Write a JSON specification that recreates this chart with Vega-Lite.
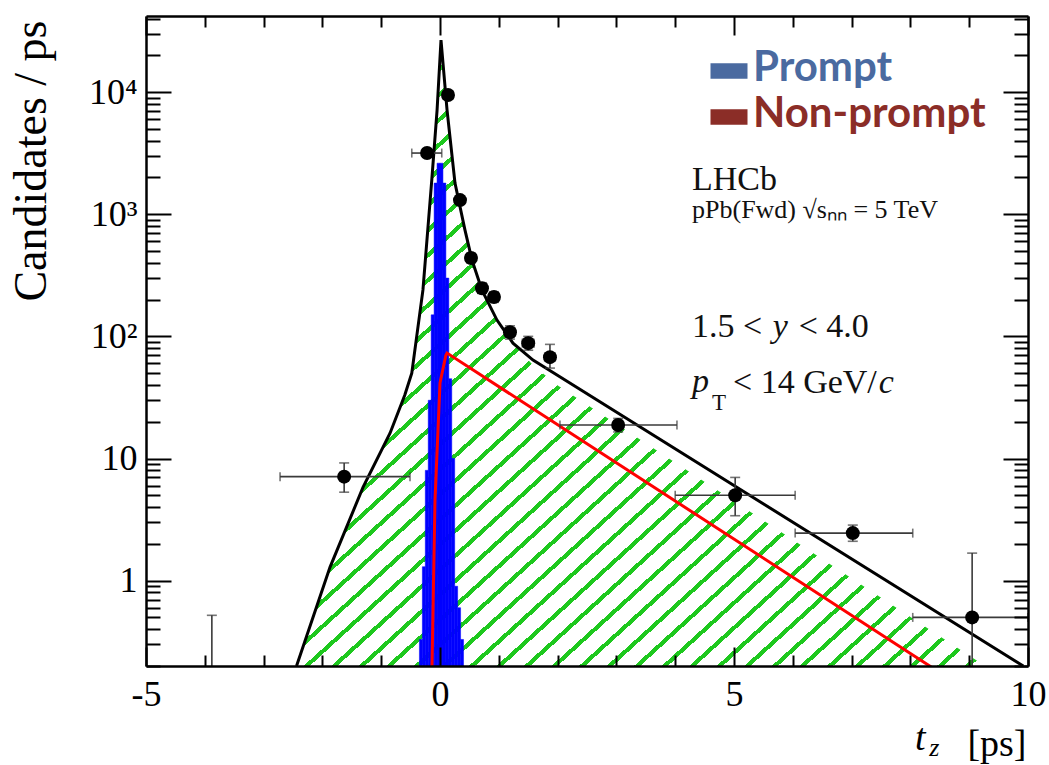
{
  "$schema": "https://vega.github.io/schema/vega-lite/v6.json",
  "width": 882,
  "height": 650,
  "autosize": "none",
  "padding": {"left": 146, "top": 16, "right": 21, "bottom": 99},
  "background": "white",
  "config": {"view": {"stroke": null}},
  "datasets": {
    "hatch": [
      {"t": -2.44, "n": 0.2}, {"t": -1.87, "n": 1.29}, {"t": -1.31, "n": 5.8}, {"t": -0.85, "n": 16.1},
      {"t": -0.6, "n": 33}, {"t": -0.48, "n": 50}, {"t": -0.29, "n": 240}, {"t": -0.14, "n": 1900}, {"t": -0.05, "n": 7100},
      {"t": 0.017, "n": 26700}, {"t": 0.12, "n": 7130}, {"t": 0.255, "n": 1800}, {"t": 0.425, "n": 742},
      {"t": 0.544, "n": 422}, {"t": 0.714, "n": 239}, {"t": 0.969, "n": 136}, {"t": 1.241, "n": 88},
      {"t": 1.582, "n": 58}, {"t": 1.99, "n": 40}, {"t": 9.27, "n": 0.2}
    ],
    "total": [
      {"t": -2.44, "n": 0.2}, {"t": -1.87, "n": 1.29}, {"t": -1.31, "n": 5.8}, {"t": -0.85, "n": 16.1},
      {"t": -0.6, "n": 33}, {"t": -0.48, "n": 50}, {"t": -0.29, "n": 240}, {"t": -0.14, "n": 1900}, {"t": -0.05, "n": 7100},
      {"t": 0.017, "n": 26700}, {"t": 0.12, "n": 7130}, {"t": 0.255, "n": 1800}, {"t": 0.425, "n": 742},
      {"t": 0.544, "n": 422}, {"t": 0.714, "n": 239}, {"t": 0.969, "n": 136}, {"t": 1.241, "n": 88},
      {"t": 1.582, "n": 64}, {"t": 1.99, "n": 48.2}, {"t": 9.92, "n": 0.2}
    ],
    "nonprompt": [
      {"t": -0.136, "n": 0.2}, {"t": -0.085, "n": 4.56}, {"t": 0.0, "n": 41.5}, {"t": 0.1, "n": 70},
      {"t": 0.12, "n": 73}, {"t": 8.4, "n": 0.19}
    ],
    "prompt": [
      {"lo": -0.35, "hi": -0.30, "n": 0.33}, {"lo": -0.30, "hi": -0.25, "n": 1.3}, {"lo": -0.25, "hi": -0.20, "n": 8},
      {"lo": -0.20, "hi": -0.15, "n": 30}, {"lo": -0.15, "hi": -0.10, "n": 150}, {"lo": -0.10, "hi": -0.05, "n": 1800},
      {"lo": -0.05, "hi": 0.0, "n": 2620}, {"lo": 0.0, "hi": 0.05, "n": 2620}, {"lo": 0.05, "hi": 0.10, "n": 1800},
      {"lo": 0.10, "hi": 0.15, "n": 300}, {"lo": 0.15, "hi": 0.20, "n": 45}, {"lo": 0.20, "hi": 0.25, "n": 10},
      {"lo": 0.25, "hi": 0.30, "n": 0.9}, {"lo": 0.30, "hi": 0.35, "n": 0.6}, {"lo": 0.35, "hi": 0.40, "n": 0.33}
    ],
    "points": [
      {"t": -1.63, "n": 7.1, "tlo": -2.72, "thi": -0.51, "nlo": 5.3, "nhi": 9.2},
      {"t": -0.22, "n": 3170, "tlo": -0.48, "thi": 0.03, "nlo": 2950, "nhi": 3400},
      {"t": 0.136, "n": 9460, "tlo": 0.05, "thi": 0.22, "nlo": 9200, "nhi": 9750},
      {"t": 0.34, "n": 1306, "tlo": 0.27, "thi": 0.41, "nlo": 1230, "nhi": 1390},
      {"t": 0.527, "n": 438, "tlo": 0.46, "thi": 0.6, "nlo": 400, "nhi": 480},
      {"t": 0.714, "n": 248, "tlo": 0.64, "thi": 0.79, "nlo": 225, "nhi": 275},
      {"t": 0.918, "n": 210, "tlo": 0.84, "thi": 1.0, "nlo": 190, "nhi": 232},
      {"t": 1.19, "n": 108, "tlo": 1.1, "thi": 1.28, "nlo": 95, "nhi": 122},
      {"t": 1.5, "n": 88, "tlo": 1.4, "thi": 1.6, "nlo": 77, "nhi": 100},
      {"t": 1.87, "n": 67.6, "tlo": 1.78, "thi": 1.96, "nlo": 55, "nhi": 86},
      {"t": 3.03, "n": 18.8, "tlo": 2.04, "thi": 4.03, "nlo": 16.5, "nhi": 21.3},
      {"t": 5.02, "n": 5.0, "tlo": 4.0, "thi": 6.04, "nlo": 3.4, "nhi": 7.0},
      {"t": 7.02, "n": 2.45, "tlo": 6.04, "thi": 8.04, "nlo": 2.1, "nhi": 2.85},
      {"t": 9.05, "n": 0.5, "tlo": 8.04, "thi": 10.0, "nlo": 0.1, "nhi": 1.68},
      {"t": -3.88, "n": 0.05, "tlo": -3.88, "thi": -3.88, "nlo": 0.1, "nhi": 0.52}
    ]
  },
  "layer": [
    {
      "data": {"name": "hatch"},
      "mark": {
        "type": "area",
        "clip": true,
        "fill": {
          "gradient": "linear", "x1": 0, "y1": 0, "x2": 1, "y2": 1,
          "stops": [
            {"offset": 0, "color": "#ffffff"},
            {"offset": 0.005, "color": "#ffffff"}, {"offset": 0.005, "color": "#1ec81e"}, {"offset": 0.0095, "color": "#1ec81e"}, {"offset": 0.0095, "color": "#ffffff"},
            {"offset": 0.025, "color": "#ffffff"}, {"offset": 0.025, "color": "#1ec81e"}, {"offset": 0.0295, "color": "#1ec81e"}, {"offset": 0.0295, "color": "#ffffff"},
            {"offset": 0.045, "color": "#ffffff"}, {"offset": 0.045, "color": "#1ec81e"}, {"offset": 0.0495, "color": "#1ec81e"}, {"offset": 0.0495, "color": "#ffffff"},
            {"offset": 0.065, "color": "#ffffff"}, {"offset": 0.065, "color": "#1ec81e"}, {"offset": 0.0695, "color": "#1ec81e"}, {"offset": 0.0695, "color": "#ffffff"},
            {"offset": 0.085, "color": "#ffffff"}, {"offset": 0.085, "color": "#1ec81e"}, {"offset": 0.0895, "color": "#1ec81e"}, {"offset": 0.0895, "color": "#ffffff"},
            {"offset": 0.105, "color": "#ffffff"}, {"offset": 0.105, "color": "#1ec81e"}, {"offset": 0.1095, "color": "#1ec81e"}, {"offset": 0.1095, "color": "#ffffff"},
            {"offset": 0.125, "color": "#ffffff"}, {"offset": 0.125, "color": "#1ec81e"}, {"offset": 0.1295, "color": "#1ec81e"}, {"offset": 0.1295, "color": "#ffffff"},
            {"offset": 0.145, "color": "#ffffff"}, {"offset": 0.145, "color": "#1ec81e"}, {"offset": 0.1495, "color": "#1ec81e"}, {"offset": 0.1495, "color": "#ffffff"},
            {"offset": 0.165, "color": "#ffffff"}, {"offset": 0.165, "color": "#1ec81e"}, {"offset": 0.1695, "color": "#1ec81e"}, {"offset": 0.1695, "color": "#ffffff"},
            {"offset": 0.185, "color": "#ffffff"}, {"offset": 0.185, "color": "#1ec81e"}, {"offset": 0.1895, "color": "#1ec81e"}, {"offset": 0.1895, "color": "#ffffff"},
            {"offset": 0.205, "color": "#ffffff"}, {"offset": 0.205, "color": "#1ec81e"}, {"offset": 0.2095, "color": "#1ec81e"}, {"offset": 0.2095, "color": "#ffffff"},
            {"offset": 0.225, "color": "#ffffff"}, {"offset": 0.225, "color": "#1ec81e"}, {"offset": 0.2295, "color": "#1ec81e"}, {"offset": 0.2295, "color": "#ffffff"},
            {"offset": 0.245, "color": "#ffffff"}, {"offset": 0.245, "color": "#1ec81e"}, {"offset": 0.2495, "color": "#1ec81e"}, {"offset": 0.2495, "color": "#ffffff"},
            {"offset": 0.265, "color": "#ffffff"}, {"offset": 0.265, "color": "#1ec81e"}, {"offset": 0.2695, "color": "#1ec81e"}, {"offset": 0.2695, "color": "#ffffff"},
            {"offset": 0.285, "color": "#ffffff"}, {"offset": 0.285, "color": "#1ec81e"}, {"offset": 0.2895, "color": "#1ec81e"}, {"offset": 0.2895, "color": "#ffffff"},
            {"offset": 0.305, "color": "#ffffff"}, {"offset": 0.305, "color": "#1ec81e"}, {"offset": 0.3095, "color": "#1ec81e"}, {"offset": 0.3095, "color": "#ffffff"},
            {"offset": 0.325, "color": "#ffffff"}, {"offset": 0.325, "color": "#1ec81e"}, {"offset": 0.3295, "color": "#1ec81e"}, {"offset": 0.3295, "color": "#ffffff"},
            {"offset": 0.345, "color": "#ffffff"}, {"offset": 0.345, "color": "#1ec81e"}, {"offset": 0.3495, "color": "#1ec81e"}, {"offset": 0.3495, "color": "#ffffff"},
            {"offset": 0.365, "color": "#ffffff"}, {"offset": 0.365, "color": "#1ec81e"}, {"offset": 0.3695, "color": "#1ec81e"}, {"offset": 0.3695, "color": "#ffffff"},
            {"offset": 0.385, "color": "#ffffff"}, {"offset": 0.385, "color": "#1ec81e"}, {"offset": 0.3895, "color": "#1ec81e"}, {"offset": 0.3895, "color": "#ffffff"},
            {"offset": 0.405, "color": "#ffffff"}, {"offset": 0.405, "color": "#1ec81e"}, {"offset": 0.4095, "color": "#1ec81e"}, {"offset": 0.4095, "color": "#ffffff"},
            {"offset": 0.425, "color": "#ffffff"}, {"offset": 0.425, "color": "#1ec81e"}, {"offset": 0.4295, "color": "#1ec81e"}, {"offset": 0.4295, "color": "#ffffff"},
            {"offset": 0.445, "color": "#ffffff"}, {"offset": 0.445, "color": "#1ec81e"}, {"offset": 0.4495, "color": "#1ec81e"}, {"offset": 0.4495, "color": "#ffffff"},
            {"offset": 0.465, "color": "#ffffff"}, {"offset": 0.465, "color": "#1ec81e"}, {"offset": 0.4695, "color": "#1ec81e"}, {"offset": 0.4695, "color": "#ffffff"},
            {"offset": 0.485, "color": "#ffffff"}, {"offset": 0.485, "color": "#1ec81e"}, {"offset": 0.4895, "color": "#1ec81e"}, {"offset": 0.4895, "color": "#ffffff"},
            {"offset": 0.505, "color": "#ffffff"}, {"offset": 0.505, "color": "#1ec81e"}, {"offset": 0.5095, "color": "#1ec81e"}, {"offset": 0.5095, "color": "#ffffff"},
            {"offset": 0.525, "color": "#ffffff"}, {"offset": 0.525, "color": "#1ec81e"}, {"offset": 0.5295, "color": "#1ec81e"}, {"offset": 0.5295, "color": "#ffffff"},
            {"offset": 0.545, "color": "#ffffff"}, {"offset": 0.545, "color": "#1ec81e"}, {"offset": 0.5495, "color": "#1ec81e"}, {"offset": 0.5495, "color": "#ffffff"},
            {"offset": 0.565, "color": "#ffffff"}, {"offset": 0.565, "color": "#1ec81e"}, {"offset": 0.5695, "color": "#1ec81e"}, {"offset": 0.5695, "color": "#ffffff"},
            {"offset": 0.585, "color": "#ffffff"}, {"offset": 0.585, "color": "#1ec81e"}, {"offset": 0.5895, "color": "#1ec81e"}, {"offset": 0.5895, "color": "#ffffff"},
            {"offset": 0.605, "color": "#ffffff"}, {"offset": 0.605, "color": "#1ec81e"}, {"offset": 0.6095, "color": "#1ec81e"}, {"offset": 0.6095, "color": "#ffffff"},
            {"offset": 0.625, "color": "#ffffff"}, {"offset": 0.625, "color": "#1ec81e"}, {"offset": 0.6295, "color": "#1ec81e"}, {"offset": 0.6295, "color": "#ffffff"},
            {"offset": 0.645, "color": "#ffffff"}, {"offset": 0.645, "color": "#1ec81e"}, {"offset": 0.6495, "color": "#1ec81e"}, {"offset": 0.6495, "color": "#ffffff"},
            {"offset": 0.665, "color": "#ffffff"}, {"offset": 0.665, "color": "#1ec81e"}, {"offset": 0.6695, "color": "#1ec81e"}, {"offset": 0.6695, "color": "#ffffff"},
            {"offset": 0.685, "color": "#ffffff"}, {"offset": 0.685, "color": "#1ec81e"}, {"offset": 0.6895, "color": "#1ec81e"}, {"offset": 0.6895, "color": "#ffffff"},
            {"offset": 0.705, "color": "#ffffff"}, {"offset": 0.705, "color": "#1ec81e"}, {"offset": 0.7095, "color": "#1ec81e"}, {"offset": 0.7095, "color": "#ffffff"},
            {"offset": 0.725, "color": "#ffffff"}, {"offset": 0.725, "color": "#1ec81e"}, {"offset": 0.7295, "color": "#1ec81e"}, {"offset": 0.7295, "color": "#ffffff"},
            {"offset": 0.745, "color": "#ffffff"}, {"offset": 0.745, "color": "#1ec81e"}, {"offset": 0.7495, "color": "#1ec81e"}, {"offset": 0.7495, "color": "#ffffff"},
            {"offset": 0.765, "color": "#ffffff"}, {"offset": 0.765, "color": "#1ec81e"}, {"offset": 0.7695, "color": "#1ec81e"}, {"offset": 0.7695, "color": "#ffffff"},
            {"offset": 0.785, "color": "#ffffff"}, {"offset": 0.785, "color": "#1ec81e"}, {"offset": 0.7895, "color": "#1ec81e"}, {"offset": 0.7895, "color": "#ffffff"},
            {"offset": 0.805, "color": "#ffffff"}, {"offset": 0.805, "color": "#1ec81e"}, {"offset": 0.8095, "color": "#1ec81e"}, {"offset": 0.8095, "color": "#ffffff"},
            {"offset": 0.825, "color": "#ffffff"}, {"offset": 0.825, "color": "#1ec81e"}, {"offset": 0.8295, "color": "#1ec81e"}, {"offset": 0.8295, "color": "#ffffff"},
            {"offset": 0.845, "color": "#ffffff"}, {"offset": 0.845, "color": "#1ec81e"}, {"offset": 0.8495, "color": "#1ec81e"}, {"offset": 0.8495, "color": "#ffffff"},
            {"offset": 0.865, "color": "#ffffff"}, {"offset": 0.865, "color": "#1ec81e"}, {"offset": 0.8695, "color": "#1ec81e"}, {"offset": 0.8695, "color": "#ffffff"},
            {"offset": 0.885, "color": "#ffffff"}, {"offset": 0.885, "color": "#1ec81e"}, {"offset": 0.8895, "color": "#1ec81e"}, {"offset": 0.8895, "color": "#ffffff"},
            {"offset": 0.905, "color": "#ffffff"}, {"offset": 0.905, "color": "#1ec81e"}, {"offset": 0.9095, "color": "#1ec81e"}, {"offset": 0.9095, "color": "#ffffff"},
            {"offset": 0.925, "color": "#ffffff"}, {"offset": 0.925, "color": "#1ec81e"}, {"offset": 0.9295, "color": "#1ec81e"}, {"offset": 0.9295, "color": "#ffffff"},
            {"offset": 0.945, "color": "#ffffff"}, {"offset": 0.945, "color": "#1ec81e"}, {"offset": 0.9495, "color": "#1ec81e"}, {"offset": 0.9495, "color": "#ffffff"},
            {"offset": 0.965, "color": "#ffffff"}, {"offset": 0.965, "color": "#1ec81e"}, {"offset": 0.9695, "color": "#1ec81e"}, {"offset": 0.9695, "color": "#ffffff"},
            {"offset": 0.985, "color": "#ffffff"}, {"offset": 0.985, "color": "#1ec81e"}, {"offset": 0.9895, "color": "#1ec81e"}, {"offset": 0.9895, "color": "#ffffff"},
            {"offset": 1, "color": "#ffffff"}
          ]
        }
      },
      "encoding": {
        "x": {"field": "t", "type": "quantitative", "scale": {"domain": [-5, 10], "nice": false, "zero": false},
          "axis": {
            "orient": "bottom", "zindex": 1,
            "values": [-5, -4, -3, -2, -1, 0, 1, 2, 3, 4, 5, 6, 7, 8, 9, 10],
            "labelExpr": "datum.value === -5 ? '-5' : datum.value === 0 ? '0' : datum.value === 5 ? '5' : datum.value === 10 ? '10' : ''",
            "tickSize": {"condition": {"test": "datum.value % 5 === 0", "value": -19}, "value": -11},
            "tickWidth": 2, "tickColor": "black", "grid": false,
            "domain": true, "domainColor": "black", "domainWidth": 2.5,
            "labelFont": "Liberation Serif", "labelFontSize": 36, "labelColor": "black", "labelPadding": 30,
            "labelOverlap": false, "labelFlush": false,
            "title": "[ps]", "titleFont": "Liberation Serif", "titleFontSize": 38, "titleFontWeight": "normal", "titleColor": "black",
            "titleAnchor": "end", "titleAlign": "right", "titleX": 880, "titleY": 89, "titleBaseline": "alphabetic"
          }
        },
        "y": {"field": "n", "type": "quantitative", "scale": {"type": "log", "domain": [0.2, 42000], "nice": false},
          "axis": {
            "orient": "left", "zindex": 1,
            "values": [0.2, 0.3, 0.4, 0.5, 0.6, 0.7, 0.8, 0.9, 1, 2, 3, 4, 5, 6, 7, 8, 9, 10, 20, 30, 40, 50, 60, 70, 80, 90, 100, 200, 300, 400, 500, 600, 700, 800, 900, 1000, 2000, 3000, 4000, 5000, 6000, 7000, 8000, 9000, 10000, 20000, 30000, 40000],
            "labelExpr": "datum.value === 10000 ? '10⁴' : datum.value === 1000 ? '10³' : datum.value === 100 ? '10²' : datum.value === 10 ? '10' : datum.value === 1 ? '1' : ''",
            "tickSize": {"condition": {"test": "datum.value === 1 || datum.value === 10 || datum.value === 100 || datum.value === 1000 || datum.value === 10000", "value": -25}, "value": -14},
            "tickWidth": 2, "tickColor": "black", "grid": false,
            "domain": true, "domainColor": "black", "domainWidth": 2.5,
            "labelFont": "Liberation Serif", "labelFontSize": 36, "labelColor": "black", "labelPadding": 34,
            "labelOverlap": false, "labelFlush": false,
            "title": "Candidates / ps", "titleFont": "Liberation Serif", "titleFontSize": 46, "titleFontWeight": "normal", "titleColor": "black",
            "titleAnchor": "end", "titleAlign": "right", "titleAngle": 270, "titleX": -91, "titleY": 4, "titleBaseline": "bottom"
          }
        },
        "y2": {"datum": 0.2}
      }
    },
    {
      "data": {"name": "prompt"},
      "mark": {"type": "rect", "color": "#0000ff", "stroke": "#0000ff", "strokeWidth": 0.5, "clip": true},
      "encoding": {
        "x": {"field": "lo", "type": "quantitative", "axis": null},
        "x2": {"field": "hi"},
        "y": {"field": "n", "type": "quantitative", "axis": null},
        "y2": {"datum": 0.2}
      }
    },
    {
      "data": {"name": "nonprompt"},
      "mark": {"type": "line", "color": "#ff0000", "strokeWidth": 3, "clip": true},
      "encoding": {
        "x": {"field": "t", "type": "quantitative", "axis": null},
        "y": {"field": "n", "type": "quantitative", "axis": null}
      }
    },
    {
      "data": {"name": "total"},
      "mark": {"type": "line", "color": "#000000", "strokeWidth": 3, "clip": true},
      "encoding": {
        "x": {"field": "t", "type": "quantitative",
          "axis": {
            "orient": "top", "zindex": 1,
            "values": [-5, -4, -3, -2, -1, 0, 1, 2, 3, 4, 5, 6, 7, 8, 9, 10],
            "labels": false, "title": null,
            "tickSize": {"condition": {"test": "datum.value % 5 === 0", "value": -19}, "value": -11},
            "tickWidth": 2, "tickColor": "black", "grid": false,
            "domain": true, "domainColor": "black", "domainWidth": 2.5
          }
        },
        "y": {"field": "n", "type": "quantitative",
          "axis": {
            "orient": "right", "zindex": 1,
            "values": [0.2, 0.3, 0.4, 0.5, 0.6, 0.7, 0.8, 0.9, 1, 2, 3, 4, 5, 6, 7, 8, 9, 10, 20, 30, 40, 50, 60, 70, 80, 90, 100, 200, 300, 400, 500, 600, 700, 800, 900, 1000, 2000, 3000, 4000, 5000, 6000, 7000, 8000, 9000, 10000, 20000, 30000, 40000],
            "labels": false, "title": null,
            "tickSize": {"condition": {"test": "datum.value === 1 || datum.value === 10 || datum.value === 100 || datum.value === 1000 || datum.value === 10000", "value": -25}, "value": -14},
            "tickWidth": 2, "tickColor": "black", "grid": false,
            "domain": true, "domainColor": "black", "domainWidth": 2.5
          }
        }
      }
    },
    {
      "data": {"name": "points"},
      "mark": {"type": "rule", "color": "#3a3a3a", "strokeWidth": 1.6, "clip": true},
      "encoding": {
        "x": {"field": "tlo", "type": "quantitative", "axis": null},
        "x2": {"field": "thi"},
        "y": {"field": "n", "type": "quantitative", "axis": null}
      }
    },
    {
      "data": {"name": "points"},
      "mark": {"type": "rule", "color": "#3a3a3a", "strokeWidth": 1.6, "clip": true},
      "encoding": {
        "x": {"field": "t", "type": "quantitative", "axis": null},
        "y": {"field": "nlo", "type": "quantitative", "axis": null},
        "y2": {"field": "nhi"}
      }
    },
    {
      "data": {"name": "points"},
      "transform": [{"fold": ["tlo", "thi"], "as": ["side", "edge"]}],
      "mark": {"type": "tick", "orient": "vertical", "color": "#3a3a3a", "size": 9, "thickness": 1.6, "clip": true},
      "encoding": {
        "x": {"field": "edge", "type": "quantitative", "axis": null},
        "y": {"field": "n", "type": "quantitative", "axis": null}
      }
    },
    {
      "data": {"name": "points"},
      "transform": [{"fold": ["nlo", "nhi"], "as": ["side", "edge"]}],
      "mark": {"type": "tick", "orient": "horizontal", "color": "#3a3a3a", "size": 10, "thickness": 1.6, "clip": true},
      "encoding": {
        "x": {"field": "t", "type": "quantitative", "axis": null},
        "y": {"field": "edge", "type": "quantitative", "axis": null}
      }
    },
    {
      "data": {"name": "points"},
      "mark": {"type": "circle", "color": "#000000", "opacity": 1, "size": 195, "clip": true},
      "encoding": {
        "x": {"field": "t", "type": "quantitative", "axis": null},
        "y": {"field": "n", "type": "quantitative", "axis": null}
      }
    },
    {
      "data": {"values": [{"label": "LHCb"}]},
      "mark": {"type": "text", "font": "Liberation Serif", "fontSize": 34, "align": "left", "baseline": "alphabetic", "color": "#111111"},
      "encoding": {
        "x": {"datum": 4.286, "type": "quantitative", "axis": null},
        "y": {"datum": 1578, "type": "quantitative", "axis": null},
        "text": {"field": "label"}
      }
    },
    {
      "data": {"values": [{"label": "pPb(Fwd) √sₙₙ = 5 TeV"}]},
      "mark": {"type": "text", "font": "Liberation Serif", "fontSize": 26, "align": "left", "baseline": "alphabetic", "color": "#111111"},
      "encoding": {
        "x": {"datum": 4.286, "type": "quantitative", "axis": null},
        "y": {"datum": 931, "type": "quantitative", "axis": null},
        "text": {"field": "label"}
      }
    },
    {
      "data": {"values": [{"label": "1.5 <"}]},
      "mark": {"type": "text", "font": "Liberation Serif", "fontSize": 34, "align": "left", "baseline": "alphabetic", "color": "#111111"},
      "encoding": {
        "x": {"datum": 4.286, "type": "quantitative", "axis": null},
        "y": {"datum": 98.6, "type": "quantitative", "axis": null},
        "text": {"field": "label"}
      }
    },
    {
      "data": {"values": [{"label": "y"}]},
      "mark": {"type": "text", "font": "Liberation Serif", "fontSize": 34, "fontStyle": "italic", "align": "left", "baseline": "alphabetic", "color": "#111111"},
      "encoding": {
        "x": {"datum": 5.66, "type": "quantitative", "axis": null},
        "y": {"datum": 98.6, "type": "quantitative", "axis": null},
        "text": {"field": "label"}
      }
    },
    {
      "data": {"values": [{"label": "< 4.0"}]},
      "mark": {"type": "text", "font": "Liberation Serif", "fontSize": 34, "align": "left", "baseline": "alphabetic", "color": "#111111"},
      "encoding": {
        "x": {"datum": 6.1, "type": "quantitative", "axis": null},
        "y": {"datum": 98.6, "type": "quantitative", "axis": null},
        "text": {"field": "label"}
      }
    },
    {
      "data": {"values": [{"label": "p"}]},
      "mark": {"type": "text", "font": "Liberation Serif", "fontSize": 34, "fontStyle": "italic", "align": "left", "baseline": "alphabetic", "color": "#111111"},
      "encoding": {
        "x": {"datum": 4.286, "type": "quantitative", "axis": null},
        "y": {"datum": 35, "type": "quantitative", "axis": null},
        "text": {"field": "label"}
      }
    },
    {
      "data": {"values": [{"label": "T"}]},
      "mark": {"type": "text", "font": "Liberation Serif", "fontSize": 23, "align": "left", "baseline": "alphabetic", "color": "#111111"},
      "encoding": {
        "x": {"datum": 4.626, "type": "quantitative", "axis": null},
        "y": {"datum": 24.9, "type": "quantitative", "axis": null},
        "text": {"field": "label"}
      }
    },
    {
      "data": {"values": [{"label": "< 14 GeV/"}]},
      "mark": {"type": "text", "font": "Liberation Serif", "fontSize": 34, "align": "left", "baseline": "alphabetic", "color": "#111111"},
      "encoding": {
        "x": {"datum": 4.983, "type": "quantitative", "axis": null},
        "y": {"datum": 34.3, "type": "quantitative", "axis": null},
        "text": {"field": "label"}
      }
    },
    {
      "data": {"values": [{"label": "c"}]},
      "mark": {"type": "text", "font": "Liberation Serif", "fontSize": 34, "fontStyle": "italic", "align": "left", "baseline": "alphabetic", "color": "#111111"},
      "encoding": {
        "x": {"datum": 7.46, "type": "quantitative", "axis": null},
        "y": {"datum": 34.3, "type": "quantitative", "axis": null},
        "text": {"field": "label"}
      }
    },
    {
      "data": {"values": [{"label": "t"}]},
      "mark": {"type": "text", "font": "Liberation Serif", "fontSize": 38, "fontStyle": "italic", "align": "left", "baseline": "alphabetic", "color": "#000000", "clip": false},
      "encoding": {
        "x": {"datum": 8.078, "type": "quantitative", "axis": null},
        "y": {"datum": 0.0409, "type": "quantitative", "axis": null},
        "text": {"field": "label"}
      }
    },
    {
      "data": {"values": [{"label": "z"}]},
      "mark": {"type": "text", "font": "Liberation Serif", "fontSize": 26, "fontStyle": "italic", "align": "left", "baseline": "alphabetic", "color": "#000000", "clip": false},
      "encoding": {
        "x": {"datum": 8.32, "type": "quantitative", "axis": null},
        "y": {"datum": 0.0365, "type": "quantitative", "axis": null},
        "text": {"field": "label"}
      }
    },
    {
      "data": {"values": []},
      "mark": {"type": "rect"},
      "encoding": {
        "color": {
          "field": "comp", "type": "nominal",
          "scale": {"domain": ["Prompt", "Non-prompt"], "range": ["#4a6aa0", "#8b2d27"]},
          "legend": {
            "orient": "none", "legendX": 562, "legendY": 34, "title": null, "padding": 0,
            "symbolType": "M-1,-0.42H1V0.42H-1Z", "symbolSize": 1369, "symbolStrokeWidth": 0,
            "labelFont": "Lato", "labelFontWeight": "bold", "labelFontSize": 42, "labelOffset": 3,
            "rowPadding": 4, "labelLimit": 0,
            "encode": {"labels": {"update": {"fill": {"signal": "datum.value === 'Prompt' ? '#4a6aa0' : '#8b2d27'"}, "dy": {"value": -3}}}}
          }
        }
      }
    }
  ],
  "resolve": {"axis": {"x": "independent", "y": "independent"}}
}
